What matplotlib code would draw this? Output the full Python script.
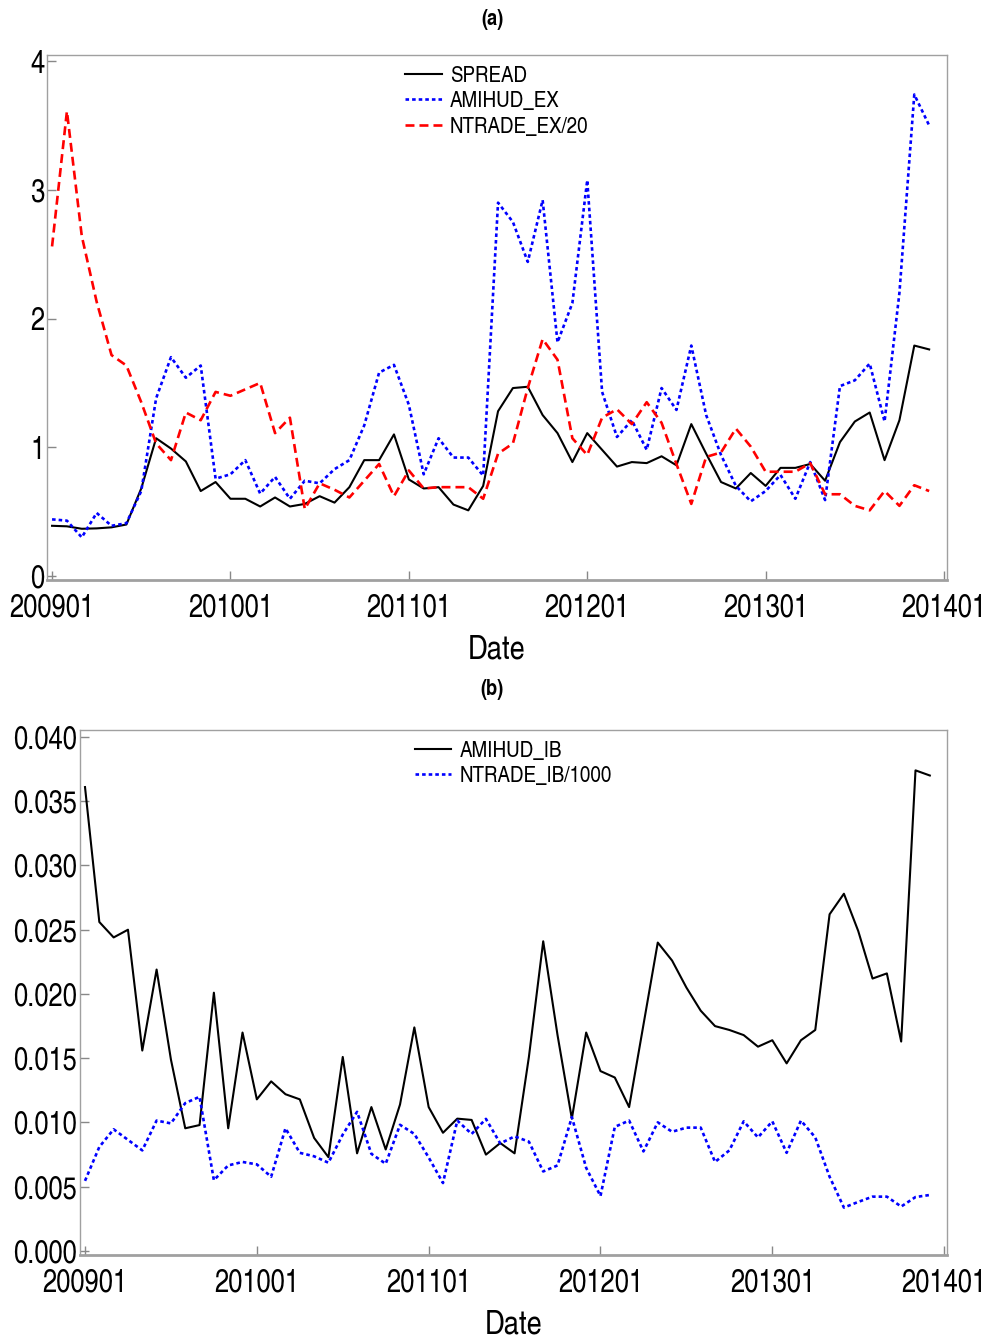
import numpy as np
import matplotlib
matplotlib.use("Agg")
import matplotlib.pyplot as plt

FAM = ['TeX Gyre Heros Cn', 'Liberation Sans', 'DejaVu Sans']
plt.rcParams['font.family'] = FAM

tick_labels = ['200901', '201001', '201101', '201201', '201301', '201401']

spread = [0.39, 0.386, 0.367, 0.37, 0.378, 0.40, 0.68, 1.07, 0.99, 0.89,
          0.66, 0.73, 0.60, 0.60, 0.54, 0.61, 0.54, 0.56, 0.62, 0.57,
          0.69, 0.90, 0.90, 1.10, 0.75, 0.68, 0.69, 0.555, 0.51, 0.70,
          1.28, 1.46, 1.47, 1.25, 1.11, 0.885, 1.11, 0.98, 0.85, 0.885,
          0.877, 0.93, 0.86, 1.18, 0.95, 0.73, 0.68, 0.80, 0.70, 0.84,
          0.84, 0.87, 0.74, 1.04, 1.20, 1.27, 0.90, 1.21, 1.79, 1.76]

amihud_ex = [0.44, 0.43, 0.30, 0.49, 0.39, 0.41, 0.66, 1.38, 1.70, 1.54,
             1.635, 0.756, 0.79, 0.90, 0.64, 0.77, 0.60, 0.74, 0.72, 0.83,
             0.90, 1.17, 1.58, 1.64, 1.33, 0.79, 1.07, 0.92, 0.92, 0.78,
             2.90, 2.75, 2.44, 2.92, 1.815, 2.12, 3.075, 1.43, 1.08, 1.21,
             0.98, 1.46, 1.29, 1.79, 1.25, 0.94, 0.70, 0.58, 0.66, 0.785,
             0.60, 0.885, 0.59, 1.475, 1.52, 1.65, 1.20, 2.20, 3.74, 3.50]

ntrade_ex_20 = [2.56, 3.61, 2.64, 2.13, 1.716, 1.635, 1.35, 1.03, 0.90, 1.27,
                1.21, 1.43, 1.40, 1.45, 1.50, 1.11, 1.23, 0.52, 0.72, 0.67,
                0.61, 0.74, 0.87, 0.62, 0.82, 0.68, 0.69, 0.69, 0.69, 0.60,
                0.95, 1.03, 1.46, 1.84, 1.68, 1.07, 0.94, 1.23, 1.295, 1.18,
                1.35, 1.19, 0.87, 0.56, 0.925, 0.96, 1.145, 1.005, 0.81, 0.81,
                0.81, 0.877, 0.635, 0.635, 0.545, 0.51, 0.66, 0.545, 0.705, 0.66]

amihud_ib = [0.0361, 0.0256, 0.0244, 0.0250, 0.0156, 0.0219, 0.0149, 0.00955, 0.0098, 0.0201,
             0.00955, 0.0170, 0.0118, 0.0132, 0.0122, 0.0118, 0.0088, 0.0073, 0.0151, 0.0076,
             0.0112, 0.0079, 0.0114, 0.0174, 0.0112, 0.0092, 0.0103, 0.0102, 0.0075, 0.0084,
             0.0076, 0.0151, 0.0241, 0.0168, 0.0103, 0.0170, 0.0140, 0.0135, 0.0112, 0.0176,
             0.0240, 0.0226, 0.0205, 0.0187, 0.0175, 0.0172, 0.0168, 0.0159, 0.0164, 0.0146,
             0.0164, 0.0172, 0.0262, 0.0278, 0.0249, 0.0212, 0.0216, 0.0163, 0.0374, 0.0370]

ntrade_ib_1000 = [0.00546, 0.0081, 0.00947, 0.00865, 0.00783, 0.01015, 0.00993, 0.01151, 0.0120, 0.00551,
                  0.00666, 0.00693, 0.00674, 0.00578, 0.00955, 0.00764, 0.00737, 0.00687, 0.00906, 0.01083,
                  0.00756, 0.00679, 0.00982, 0.00911, 0.00728, 0.00529, 0.01015, 0.00911, 0.01028, 0.00837,
                  0.00892, 0.00851, 0.00619, 0.00666, 0.01042, 0.00647, 0.00428, 0.00966, 0.01015, 0.00775,
                  0.01001, 0.00928, 0.0096, 0.0096, 0.00693, 0.00783, 0.01009, 0.00884, 0.01009, 0.00764,
                  0.01015, 0.00884, 0.00578, 0.00338, 0.00382, 0.00423, 0.00423, 0.00346, 0.0042, 0.00436]

x = np.arange(len(spread))
tick_pos = np.arange(0, 61, 12)

W, H = 989, 1339
fig = plt.figure(figsize=(W / 100, H / 100), dpi=100)

SPINE = '#a0a0a0'
TICKC = '#888888'
TICKFS = 22.5
LEGFS = 16.5

BLACK_LW = 1.5
DASH_LW = 1.9
blue_ls = (0, (1.35, 1.15))
red_ls = (0, (3.4, 1.9))


def style_axes(ax):
    for s in ax.spines.values():
        s.set_color(SPINE)
        s.set_linewidth(1.0)
    ax.spines['bottom'].set_linewidth(2.0)
    ax.tick_params(axis='both', direction='in', length=6.5, width=1.0,
                   color=TICKC, labelsize=TICKFS, labelcolor='black')
    ax.tick_params(axis='y', pad=2, left=True, right=False)
    ax.tick_params(axis='x', pad=9.5, bottom=True, top=False)
    ax.set_xticks(tick_pos)
    ax.set_xticklabels(tick_labels)
    ax.set_xlabel('Date', fontsize=24, labelpad=8)


# Panel (a)
axa = fig.add_axes([47 / W, 1 - 580 / H, 900 / W, 525 / H])
axa.plot(x, spread, color='black', lw=BLACK_LW, label='SPREAD')
axa.plot(x, amihud_ex, color='#0000ff', lw=DASH_LW, ls=blue_ls, label='AMIHUD_EX')
axa.plot(x, ntrade_ex_20, color='#ff0000', lw=DASH_LW, ls=red_ls, label='NTRADE_EX/20')
axa.set_xlim(-0.34, 60.2)
axa.set_ylim(-0.031, 4.047)
axa.set_yticks([0, 1, 2, 3, 4])
axa.set_yticklabels(['0', '1', '2', '3', '4'])
style_axes(axa)
axa.legend(loc='upper left', bbox_to_anchor=(0.398, 0.98), frameon=False,
           fontsize=LEGFS, borderpad=0, borderaxespad=0, handlelength=1.6,
           handletextpad=0.35, labelspacing=0.21)
fig.text(492 / W, 1 - 20 / H, '(a)', ha='center', va='center',
         fontsize=16, fontweight='bold')

# Panel (b)
axb = fig.add_axes([80 / W, 1 - 1255 / H, 867 / W, 525 / H])
axb.plot(x, amihud_ib, color='black', lw=BLACK_LW, label='AMIHUD_IB')
axb.plot(x, ntrade_ib_1000, color='#0000ff', lw=DASH_LW, ls=blue_ls, label='NTRADE_IB/1000')
axb.set_xlim(-0.35, 60.2)
axb.set_ylim(-0.00031, 0.04054)
yt = [0.0, 0.005, 0.010, 0.015, 0.020, 0.025, 0.030, 0.035, 0.040]
axb.set_yticks(yt)
axb.set_yticklabels(['%.3f' % v for v in yt])
style_axes(axb)
axb.legend(loc='upper left', bbox_to_anchor=(0.386, 0.98), frameon=False,
           fontsize=LEGFS, borderpad=0, borderaxespad=0, handlelength=1.6,
           handletextpad=0.35, labelspacing=0.21)
fig.text(492 / W, 1 - 690 / H, '(b)', ha='center', va='center',
         fontsize=16, fontweight='bold')

fig.savefig('out.png', dpi=100)
